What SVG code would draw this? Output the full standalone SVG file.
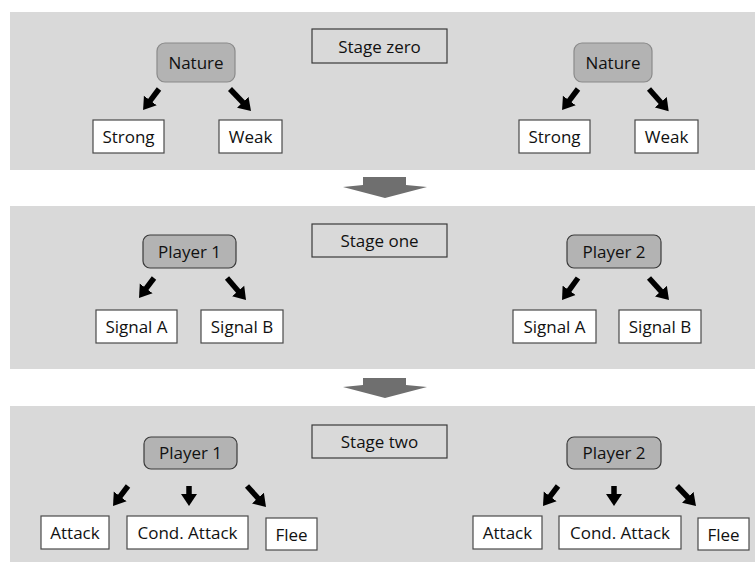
<svg xmlns="http://www.w3.org/2000/svg" width="755" height="562" viewBox="0 0 755 562">
<style>
.panel{fill:#d9d9d9}
.gnode{fill:#b3b3b3;stroke:#8a8a8a;stroke-width:1.2}
.pnode{fill:#b3b3b3;stroke:#3a3a3a;stroke-width:1.2}
.wnode{fill:#ffffff;stroke:#4a4a4a;stroke-width:1.2}
.stage{fill:none;stroke:#3a3a3a;stroke-width:1.2}
text{font-family:"Open Sans","Liberation Sans",sans-serif;font-size:17px;fill:#111;text-anchor:middle}
.big{fill:#6f6f6f}
.arr{stroke:#000;stroke-width:5.5;fill:none;marker-end:url(#head)}
</style>
<defs>
<marker id="head" markerUnits="userSpaceOnUse" markerWidth="13" markerHeight="17" viewBox="-1 -8.5 13 17" refX="0" refY="0" orient="auto">
<path d="M-1,-8 L11,0 L-1,8 z" fill="#000"/>
</marker>
</defs>
<rect width="755" height="562" fill="#fff"/>
<rect class="panel" x="10" y="12" width="745" height="158"/>
<rect class="panel" x="10" y="206" width="745" height="163"/>
<rect class="panel" x="10" y="406" width="745" height="156"/>

<g id="stage-arrows">
<polygon class="big" points="363,177 406,177 406,185 427,187 385,198 343,187 363,185"/>
<polygon class="big" points="363,378 406,378 406,385 427,387 385,398 343,387 363,385"/>
</g>

<g id="stage-zero"><rect class="stage" x="312" y="29" width="135" height="34"/><text x="379.5" y="53">Stage zero</text></g>
<g id="nature-1"><rect class="gnode" x="157" y="43" width="78" height="39" rx="8"/><text x="196" y="69">Nature</text></g>
<g id="strong-1"><rect class="wnode" x="93" y="120" width="71" height="33"/><text x="128.5" y="143">Strong</text></g>
<g id="weak-1"><rect class="wnode" x="219" y="120" width="63" height="33"/><text x="250.5" y="143">Weak</text></g>
<g id="nature-2"><rect class="gnode" x="574" y="43" width="78" height="39" rx="8"/><text x="613" y="69">Nature</text></g>
<g id="strong-2"><rect class="wnode" x="519" y="120" width="71" height="33"/><text x="554.5" y="143">Strong</text></g>
<g id="weak-2"><rect class="wnode" x="635" y="120" width="63" height="33"/><text x="666.5" y="143">Weak</text></g>

<g id="stage-one"><rect class="stage" x="312" y="224" width="135" height="33"/><text x="379.5" y="247">Stage one</text></g>
<g id="player1-a"><rect class="pnode" x="143" y="235" width="93" height="33" rx="7"/><text x="189.5" y="258">Player 1</text></g>
<g id="signalA-1"><rect class="wnode" x="96" y="310" width="81" height="33"/><text x="136.5" y="333">Signal A</text></g>
<g id="signalB-1"><rect class="wnode" x="201" y="310" width="82" height="33"/><text x="242" y="333">Signal B</text></g>
<g id="player2-a"><rect class="pnode" x="567" y="235" width="94" height="33" rx="7"/><text x="614" y="258">Player 2</text></g>
<g id="signalA-2"><rect class="wnode" x="513" y="310" width="83" height="33"/><text x="554.5" y="333">Signal A</text></g>
<g id="signalB-2"><rect class="wnode" x="619" y="310" width="82" height="33"/><text x="660" y="333">Signal B</text></g>

<g id="stage-two"><rect class="stage" x="312" y="425" width="135" height="33"/><text x="379.5" y="448">Stage two</text></g>
<g id="player1-b"><rect class="pnode" x="144" y="437" width="93" height="32" rx="7"/><text x="190.5" y="459">Player 1</text></g>
<g id="attack-1"><rect class="wnode" x="41" y="516" width="68" height="33"/><text x="75" y="539">Attack</text></g>
<g id="cond-1"><rect class="wnode" x="127" y="516" width="121" height="33"/><text x="187.5" y="539">Cond. Attack</text></g>
<g id="flee-1"><rect class="wnode" x="266" y="518" width="51" height="32"/><text x="291.5" y="541">Flee</text></g>
<g id="player2-b"><rect class="pnode" x="567" y="437" width="94" height="32" rx="7"/><text x="614" y="459">Player 2</text></g>
<g id="attack-2"><rect class="wnode" x="473" y="516" width="69" height="33"/><text x="507.5" y="539">Attack</text></g>
<g id="cond-2"><rect class="wnode" x="559" y="516" width="122" height="33"/><text x="620" y="539">Cond. Attack</text></g>
<g id="flee-2"><rect class="wnode" x="698" y="518" width="51" height="32"/><text x="723.5" y="541">Flee</text></g>

<g id="connectors">
<line class="arr" x1="159" y1="89" x2="149.7" y2="101.3"/>
<line class="arr" x1="230" y1="89" x2="243.4" y2="103"/>
<line class="arr" x1="578" y1="89" x2="568.7" y2="101.3"/>
<line class="arr" x1="649" y1="89" x2="661.4" y2="103"/>
<line class="arr" x1="154" y1="278" x2="145.6" y2="289.2"/>
<line class="arr" x1="227" y1="278" x2="238.8" y2="291.7"/>
<line class="arr" x1="578" y1="278" x2="568.5" y2="291.1"/>
<line class="arr" x1="649" y1="278" x2="661.6" y2="291.9"/>
<line class="arr" x1="128" y1="486" x2="119.6" y2="497.2"/>
<line class="arr" x1="189" y1="486" x2="189" y2="495"/>
<line class="arr" x1="247" y1="486" x2="258.6" y2="498.8"/>
<line class="arr" x1="558" y1="486" x2="549.6" y2="497.2"/>
<line class="arr" x1="614" y1="486" x2="614" y2="495"/>
<line class="arr" x1="677" y1="486" x2="688.4" y2="498"/>
</g>
</svg>
